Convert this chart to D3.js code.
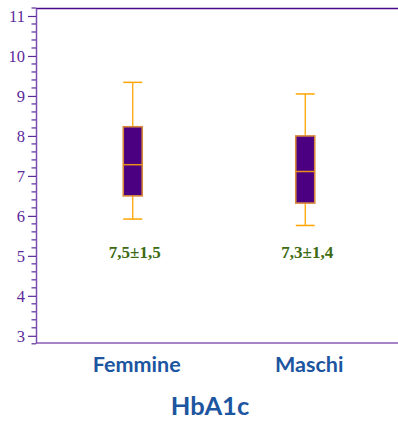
<!DOCTYPE html>
<html><head><meta charset="utf-8">
<script src="https://cdn.jsdelivr.net/npm/d3@7"></script>
<style>body{margin:0;background:#fff}svg{display:block}</style>
</head><body><svg id="c" width="398" height="421"></svg>
<script>
const categories = ["Femmine", "Maschi"];
const whiskerLow = [5.92, 5.76];
const q1 = [6.50, 6.32];
const median = [7.28, 7.11];
const q3 = [8.23, 8.00];
const whiskerHigh = [9.34, 9.05];
const statLabels = ["7,5\u00b11,5", "7,3\u00b11,4"];
const yTicks = [3, 4, 5, 6, 7, 8, 9, 10, 11];
const title = "HbA1c";

const svg = d3.select("#c");
const L = 36, R = 398, T = 8, B = 343;
const y = d3.scaleLinear().domain([2.82, 11.2]).range([B, T]);
const x = d3.scalePoint().domain(categories).range([L + 1, R + 3]).padding(0.555);

// frame lines
svg.append("line").attr("x1", L).attr("x2", R).attr("y1", T + 0.5).attr("y2", T + 0.5)
  .attr("stroke", "#4b0a8c").attr("stroke-width", 1.5);
svg.append("line").attr("x1", L).attr("x2", R).attr("y1", B).attr("y2", B)
  .attr("stroke", "#8a5bb5").attr("stroke-width", 1.5);

// y axis
const minor = d3.range(2.8, 11.2001, 0.2).filter(v => Math.abs(v - Math.round(v)) > 0.01);
const ya = svg.append("g").attr("transform", `translate(${L},0)`);
ya.call(d3.axisLeft(y).tickValues(yTicks).tickSize(8).tickSizeOuter(0).tickFormat(d3.format("d")));
ya.select(".domain").attr("stroke", "#7a4fb0").attr("stroke-width", 1.5);
ya.selectAll(".tick line").attr("stroke", "#5a2a9a").attr("stroke-width", 1.2);
ya.selectAll(".tick text").attr("fill", "#5b2a9b").attr("font-family", "Liberation Serif, serif")
  .attr("font-size", 16.5).attr("dx", "0");
svg.append("g").selectAll("line").data(minor).join("line")
  .attr("x1", L - 4.5).attr("x2", L).attr("y1", d => y(d)).attr("y2", d => y(d))
  .attr("stroke", "#5a2a9a").attr("stroke-width", 1.2);

// boxes
const bw = 19;
const g = svg.append("g");
categories.forEach((c, i) => {
  const cx = x(c);
  const orange = "#ffa500";
  g.append("line").attr("x1", cx).attr("x2", cx).attr("y1", y(whiskerHigh[i])).attr("y2", y(q3[i]))
    .attr("stroke", orange).attr("stroke-width", 1.3);
  g.append("line").attr("x1", cx).attr("x2", cx).attr("y1", y(q1[i])).attr("y2", y(whiskerLow[i]))
    .attr("stroke", orange).attr("stroke-width", 1.3);
  [whiskerHigh[i], whiskerLow[i]].forEach(v => {
    g.append("line").attr("x1", cx - bw / 2).attr("x2", cx + bw / 2).attr("y1", y(v)).attr("y2", y(v))
      .attr("stroke", orange).attr("stroke-width", 1.5);
  });
  g.append("rect").attr("x", cx - bw / 2).attr("y", y(q3[i])).attr("width", bw)
    .attr("height", y(q1[i]) - y(q3[i])).attr("fill", "#4b0082")
    .attr("stroke", "#d88a3c").attr("stroke-width", 1.6);
  g.append("line").attr("x1", cx - bw / 2).attr("x2", cx + bw / 2).attr("y1", y(median[i])).attr("y2", y(median[i]))
    .attr("stroke", "#e8901a").attr("stroke-width", 1.5);
  g.append("text").attr("x", cx + 2).attr("y", y(5.05)).attr("text-anchor", "middle")
    .attr("dominant-baseline", "middle")
    .attr("fill", "#3d6b12").attr("font-family", "Liberation Serif, serif")
    .attr("font-weight", "bold").attr("font-size", 17).text(statLabels[i]);
  g.append("text").attr("x", cx + 4).attr("y", 371.5).attr("text-anchor", "middle")
    .attr("fill", "#1c55a0").attr("font-family", "Lato, sans-serif")
    .attr("font-weight", "bold").attr("font-size", 21.5).text(c);
});

svg.append("text").attr("x", 210).attr("y", 415).attr("text-anchor", "middle")
  .attr("fill", "#1c55a0").attr("font-family", "Lato, sans-serif")
  .attr("font-weight", "bold").attr("font-size", 25.5).text(title);
</script></body></html>
